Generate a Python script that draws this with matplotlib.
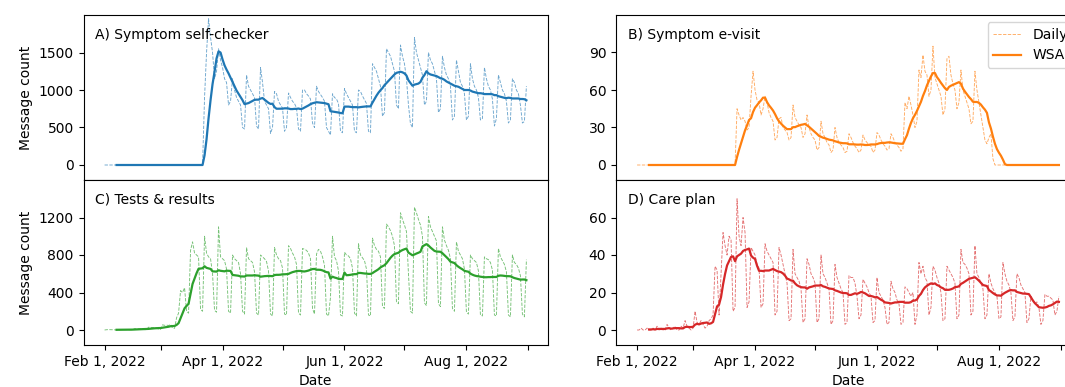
import matplotlib
matplotlib.use("Agg")
import matplotlib.pyplot as plt
import matplotlib.dates as mdates
import pandas as pd
import numpy as np

# ---------------- data ----------------
start_date = "2022-02-01"
end_date = "2022-08-31"

panel_titles = ["A) Symptom self-checker", "B) Symptom e-visit",
                "C) Tests & results", "D) Care plan"]
series_names = ["Daily", "WSA"]

self_checker = (
    [0]
    + [0] * 49
    + [900, 1500, 1950, 1700, 1500, 1150, 1250]
    + [1550, 1400, 1300, 1150, 1100, 800, 850]
    + [1150, 1000, 900, 850, 800, 500, 480]
    + [1200, 1050, 1000, 950, 900, 520, 480]
    + [1300, 1100, 850, 800, 750, 420, 500]
    + [980, 950, 850, 800, 760, 450, 500]
    + [960, 900, 850, 820, 760, 480, 450]
    + [1000, 1000, 950, 920, 880, 560, 500]
    + [1050, 980, 940, 900, 850, 500, 450]
    + [400, 950, 900, 880, 820, 450, 430]
    + [1020, 950, 900, 850, 800, 450, 430]
    + [1000, 980, 920, 870, 820, 450, 430]
    + [1350, 1300, 1250, 1150, 1050, 650, 700]
    + [1550, 1500, 1450, 1350, 1250, 800, 750]
    + [1600, 1450, 1350, 1150, 800, 550, 500]
    + [1700, 1500, 1400, 1300, 1200, 800, 850]
    + [1500, 1400, 1350, 1250, 1150, 700, 750]
    + [1450, 1300, 1200, 1150, 1050, 600, 650]
    + [1400, 1250, 1100, 1050, 950, 600, 650]
    + [1350, 1150, 1050, 1000, 900, 600, 620]
    + [1300, 1150, 1050, 1000, 880, 520, 620]
    + [1200, 1100, 1000, 950, 850, 560, 600]
    + [1150, 1100, 1000, 950, 800, 560, 580]
    + [1050]
)

e_visit = (
    [0]
    + [0] * 49
    + [45, 40, 36, 38, 35, 28, 30]
    + [55, 75, 60, 52, 50, 40, 45]
    + [55, 50, 42, 38, 35, 20, 22]
    + [37, 38, 30, 28, 26, 20, 22]
    + [48, 38, 35, 32, 30, 22, 25]
    + [40, 30, 25, 22, 20, 12, 14]
    + [35, 25, 22, 18, 16, 10, 12]
    + [30, 22, 18, 16, 14, 10, 11]
    + [25, 22, 18, 15, 13, 10, 12]
    + [24, 20, 18, 16, 15, 10, 12]
    + [26, 24, 20, 17, 15, 12, 13]
    + [25, 22, 18, 16, 14, 11, 13]
    + [50, 45, 55, 48, 40, 30, 35]
    + [76, 70, 88, 75, 72, 55, 60]
    + [95, 70, 65, 60, 55, 40, 45]
    + [85, 87, 72, 65, 60, 45, 50]
    + [76, 60, 55, 50, 45, 33, 35]
    + [75, 60, 50, 40, 30, 20, 17]
    + [22, 25, 5, 0, 0, 0, 0]
    + [0] * 28
    + [0]
)

tests_results = (
    [0]
    + [3, 4, 3, 3, 2, 1, 1]
    + [5, 6, 5, 5, 4, 2, 2]
    + [14, 12, 12, 11, 10, 4, 4]
    + [30, 28, 26, 24, 22, 9, 8]
    + [55, 50, 52, 48, 60, 20, 18]
    + [130, 180, 420, 400, 450, 200, 180]
    + [850, 940, 820, 800, 780, 220, 200]
    + [1000, 820, 780, 760, 600, 210, 190]
    + [1100, 780, 760, 740, 650, 200, 180]
    + [800, 760, 740, 720, 600, 200, 170]
    + [880, 760, 740, 720, 620, 180, 160]
    + [800, 780, 760, 730, 630, 170, 150]
    + [880, 800, 760, 740, 660, 170, 160]
    + [900, 870, 820, 780, 700, 180, 160]
    + [870, 860, 850, 820, 760, 230, 170]
    + [810, 860, 840, 780, 690, 170, 150]
    + [350, 1000, 780, 740, 630, 160, 150]
    + [830, 800, 790, 760, 660, 180, 150]
    + [920, 800, 770, 740, 650, 160, 150]
    + [980, 900, 860, 840, 780, 250, 230]
    + [1130, 1100, 1060, 1000, 900, 300, 280]
    + [1250, 1180, 1120, 1050, 600, 200, 180]
    + [1310, 1250, 1180, 1120, 1000, 290, 260]
    + [1210, 1100, 1050, 1000, 950, 280, 250]
    + [1100, 960, 900, 850, 760, 230, 200]
    + [940, 840, 800, 760, 650, 190, 170]
    + [800, 760, 740, 720, 630, 160, 150]
    + [780, 760, 750, 720, 640, 160, 150]
    + [870, 780, 740, 700, 620, 160, 140]
    + [800, 720, 700, 660, 580, 170, 140]
    + [750]
)

care_plan = (
    [0]
    + [0, 1, 0, 0, 1, 0, 0]
    + [1, 0, 2, 0, 1, 0, 0]
    + [3, 1, 0, 1, 2, 0, 0]
    + [2, 1, 5, 2, 1, 0, 1]
    + [10, 4, 3, 5, 3, 1, 2]
    + [5, 6, 8, 34, 32, 8, 30]
    + [52, 45, 40, 50, 48, 10, 12]
    + [70, 50, 45, 60, 52, 12, 15]
    + [44, 42, 40, 35, 33, 12, 14]
    + [46, 42, 40, 38, 36, 8, 10]
    + [44, 40, 35, 30, 25, 5, 6]
    + [43, 30, 28, 26, 22, 4, 6]
    + [38, 35, 30, 28, 25, 4, 6]
    + [40, 30, 28, 25, 22, 3, 5]
    + [35, 28, 25, 22, 20, 3, 4]
    + [29, 28, 28, 25, 18, 6, 8]
    + [27, 25, 23, 20, 18, 4, 5]
    + [28, 20, 18, 16, 12, 3, 4]
    + [26, 22, 20, 16, 14, 3, 4]
    + [23, 22, 20, 18, 20, 3, 8]
    + [36, 30, 34, 28, 26, 8, 12]
    + [34, 32, 28, 25, 20, 5, 6]
    + [34, 32, 30, 28, 25, 6, 8]
    + [43, 36, 35, 33, 30, 8, 10]
    + [45, 30, 28, 25, 22, 6, 8]
    + [30, 25, 22, 20, 18, 6, 7]
    + [36, 30, 26, 24, 20, 5, 7]
    + [30, 28, 24, 22, 20, 4, 6]
    + [18, 16, 14, 15, 12, 3, 5]
    + [19, 18, 18, 17, 16, 8, 10]
    + [18]
)

y_limits = [(-200, 2000), (-12, 120), (-160, 1600), (-8, 80)]
y_ticks = [[0, 500, 1000, 1500], [0, 30, 60, 90], [0, 400, 800, 1200], [0, 20, 40, 60]]
colors = ["#1f77b4", "#ff7f0e", "#2ca02c", "#d62728"]

# ---------------- figure ----------------
dates = pd.date_range(start_date, end_date, freq="D")
all_series = [self_checker, e_visit, tests_results, care_plan]

fig = plt.figure(figsize=(10.65, 3.87), dpi=100)
W, H = 1065.0, 387.0
ax_w = 464.0 / W
ax_h = 165.0 / H
lefts = [83.5 / W, 616.0 / W]
bottoms = [1 - 180.0 / H, 1 - 345.0 / H]

axA = fig.add_axes([lefts[0], bottoms[0], ax_w, ax_h])
axB = fig.add_axes([lefts[1], bottoms[0], ax_w, ax_h])
axC = fig.add_axes([lefts[0], bottoms[1], ax_w, ax_h], sharex=axA)
axD = fig.add_axes([lefts[1], bottoms[1], ax_w, ax_h], sharex=axB)
axes = [axA, axB, axC, axD]

for i, ax in enumerate(axes):
    daily = pd.Series(all_series[i], index=dates, dtype=float)
    wsa = daily.rolling(7).mean()
    ax.plot(daily.index, daily.values, linestyle="--", linewidth=0.65,
            color=colors[i], alpha=0.65, label=series_names[0])
    ax.plot(wsa.index, wsa.values, linestyle="-", linewidth=1.6,
            color=colors[i], label=series_names[1])
    ax.set_ylim(*y_limits[i])
    ax.set_yticks(y_ticks[i])
    ax.text(0.025, 0.88, panel_titles[i], transform=ax.transAxes,
            fontsize=10, va="center", ha="left")
    ax.xaxis.set_major_locator(mdates.MonthLocator(bymonth=[2, 4, 6, 8]))
    ax.xaxis.set_minor_locator(mdates.MonthLocator())
    ax.xaxis.set_major_formatter(mdates.DateFormatter("%b %-d, %Y"))
    ax.tick_params(axis="x", which="minor", length=3.5, width=0.8)

for ax in [axA, axB]:
    ax.tick_params(axis="x", which="both", bottom=False, labelbottom=False)

for ax in [axC, axD]:
    ax.set_xlabel("Date")

axA.set_ylabel("Message count")
axC.set_ylabel("Message count")

axB.legend(loc="upper right", fontsize=10)

fig.savefig("out.png", dpi=100)
